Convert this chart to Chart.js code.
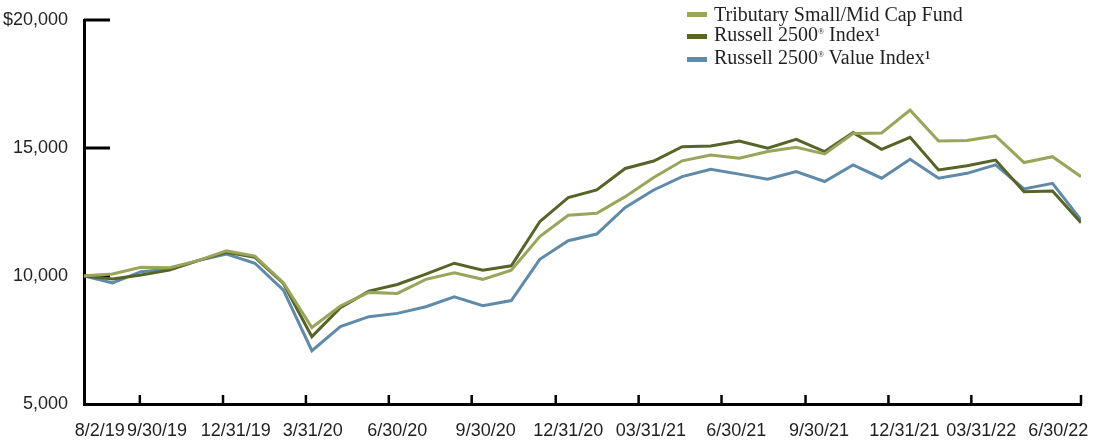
<!DOCTYPE html>
<html>
<head>
<meta charset="utf-8">
<script src="https://cdn.jsdelivr.net/npm/chart.js@4"></script>
<style>
  html, body { margin: 0; padding: 0; background: #fff; }
  #wrap { position: relative; width: 1099px; height: 440px; }
  #legend { position: absolute; left: 687px; top: 3px; font-family: 'Liberation Serif', 'DejaVu Serif', serif; font-size: 20px; color: #231f20; }
  .legend__row { display: flex; align-items: center; white-space: nowrap; height: 22.5px; line-height: 22.5px; }
  .legend__swatch { display: inline-block; width: 20px; height: 5px; margin-right: 7px; }
  .legend__reg { font-size: 8px; position: relative; top: -7px; }
</style>
</head>
<body>
<div id="wrap">
  <canvas id="chart" width="1099" height="440"></canvas>
  <div id="legend"></div>
</div>
<script>
// month-end dates, first point is the fund's inception
const months = [
  '8/2/19', '8/31/19', '9/30/19', '10/31/19', '11/30/19', '12/31/19',
  '1/31/20', '2/29/20', '3/31/20', '4/30/20', '5/31/20', '6/30/20',
  '7/31/20', '8/31/20', '9/30/20', '10/31/20', '11/30/20', '12/31/20',
  '1/31/21', '2/28/21', '3/31/21', '4/30/21', '5/31/21', '6/30/21',
  '7/31/21', '8/31/21', '9/30/21', '10/31/21', '11/30/21', '12/31/21',
  '1/31/22', '2/28/22', '3/31/22', '4/30/22', '5/31/22', '6/30/22',
];

const fundValues = [
  10010, 10080, 10340, 10320, 10600, 10980, 10780, 9740, 7990, 8830, 9360, 9320,
  9870, 10130, 9870, 10230, 11540, 12370, 12450, 13100, 13850, 14500, 14730, 14600,
  14860, 15030, 14770, 15570, 15590, 16480, 15270, 15290, 15470, 14430, 14660, 13880,
];

const russell2500Values = [
  10000, 9880, 10040, 10230, 10600, 10930, 10730, 9710, 7630, 8760, 9410, 9670,
  10070, 10500, 10230, 10400, 12120, 13060, 13360, 14200, 14490, 15050, 15080, 15270,
  14990, 15340, 14860, 15600, 14950, 15420, 14140, 14310, 14530, 13290, 13320, 12080,
];

const russell2500ValueValues = [
  10000, 9730, 10170, 10270, 10600, 10860, 10500, 9450, 7080, 8020, 8410, 8540,
  8800, 9190, 8840, 9040, 10650, 11380, 11640, 12680, 13360, 13880, 14170, 13980,
  13780, 14080, 13690, 14340, 13820, 14560, 13820, 14010, 14340, 13400, 13620, 12190,
];

const seriesLabels = ['Tributary Small/Mid Cap Fund', 'Russell 2500® Index¹', 'Russell 2500® Value Index¹'];
const seriesColors = ['#98a55a', '#566527', '#5f8ba8'];

// x axis text, and where the printed labels / tick marks sit (in months from inception)
const xTickLabels = ['8/2/19', '9/30/19', '12/31/19', '3/31/20', '6/30/20', '9/30/20', '12/31/20',
  '03/31/21', '6/30/21', '9/30/21', '12/31/21', '03/31/22', '6/30/22'];
const xLabelAt = [0.55, 2.56, 5.33, 8.03, 11.0, 14.1, 17.0, 19.9, 22.9, 25.8, 28.8, 31.5, 34.2];
const xMarkAt = [1.96, 4.88, 7.79, 10.7, 13.61, 16.56, 19.47, 22.38, 25.33, 28.24, 31.15, 35];

const yTicks = [5000, 10000, 15000, 20000];

const TEXT = '#231f20';
const SANS = "'Liberation Sans', Arial, sans-serif";

function toPoints(values) {
  return values.map((y, i) => ({ x: i, y }));
}

const tickMarks = {
  id: 'tickMarks',
  beforeDatasetsDraw(chart) {
    const { ctx, scales: { x, y } } = chart;
    ctx.save();
    ctx.strokeStyle = '#000';
    ctx.lineWidth = 3;
    yTicks.slice(1).forEach((v) => {
      const py = y.getPixelForValue(v);
      ctx.beginPath();
      ctx.moveTo(x.left, py);
      ctx.lineTo(x.left + 26, py);
      ctx.stroke();
    });
    ctx.lineWidth = 2.5;
    xMarkAt.forEach((m) => {
      const px = x.getPixelForValue(m);
      ctx.beginPath();
      ctx.moveTo(px, y.bottom);
      ctx.lineTo(px, y.bottom - 9);
      ctx.stroke();
    });
    ctx.restore();
  },
};

const datasets = [fundValues, russell2500Values, russell2500ValueValues].map((values, i) => ({
  label: seriesLabels[i],
  data: toPoints(values),
  borderColor: seriesColors[i],
  backgroundColor: seriesColors[i],
  borderWidth: 3,
  pointRadius: 0,
  tension: 0,
  fill: false,
}));

const chart = new Chart(document.getElementById('chart'), {
  type: 'line',
  data: { labels: months, datasets },
  options: {
    responsive: false,
    animation: false,
    layout: { padding: { top: 20, right: 18, left: 0, bottom: 0 } },
    plugins: { legend: { display: false }, tooltip: { enabled: false } },
    scales: {
      x: {
        type: 'linear',
        min: 0,
        max: months.length - 1,
        grid: { display: false },
        border: { display: true, color: '#000', width: 3 },
        afterBuildTicks: (scale) => { scale.ticks = xLabelAt.map((value) => ({ value })); },
        afterFit: (scale) => { scale.height = 36; },
        ticks: {
          autoSkip: false,
          maxRotation: 0,
          padding: 8,
          color: TEXT,
          font: { family: SANS, size: 18 },
          callback: (value, index) => xTickLabels[index],
        },
      },
      y: {
        min: 5000,
        max: 20000,
        grid: { display: false },
        border: { display: true, color: '#000', width: 3 },
        afterBuildTicks: (scale) => { scale.ticks = yTicks.map((value) => ({ value })); },
        afterFit: (scale) => { scale.width = 84; },
        ticks: {
          padding: 8,
          color: TEXT,
          font: { family: SANS, size: 18 },
          callback: (value) => (value === 20000 ? '$' : '') + value.toLocaleString('en-US'),
        },
      },
    },
  },
  plugins: [tickMarks],
});

const legendEl = document.getElementById('legend');
legendEl.innerHTML = chart.data.datasets.map((ds) => `
  <div class="legend__row">
    <span class="legend__swatch" style="background:${ds.borderColor}"></span>
    <span>${ds.label.replace('®', '<span class="legend__reg">®</span>')}</span>
  </div>
`).join('');
</script>
</body>
</html>
